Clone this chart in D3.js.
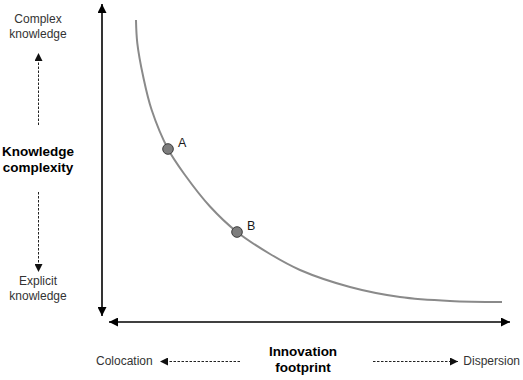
<!DOCTYPE html>
<html>
<head>
<meta charset="utf-8">
<script src="https://cdn.jsdelivr.net/npm/d3@7"></script>
<style>
  html, body { margin: 0; padding: 0; background: #fff; }
  svg { display: block; font-family: "Liberation Sans", Arial, Helvetica, sans-serif; }
</style>
</head>
<body>
<svg id="chart" width="523" height="380"></svg>
<script>
// ---- data ----
const curveX = [8.33, 8.65, 10.12, 12.18, 16.18, 20.34, 26.47, 33.09, 41.18, 48.53, 60.78, 73.04, 85.29, 98.04];
const curveY = [95.25, 87.97, 77.22, 66.77, 54.43, 46.20, 36.23, 28.16, 21.20, 16.14, 10.76, 7.59, 6.33, 6.01];
const pointNames = ["A", "B"];
const pointX = [16.18, 33.09];
const pointY = [54.43, 28.16];
const yAxisTitle = ["Knowledge", "complexity"];
const yTopLabel = ["Complex", "knowledge"];
const yBottomLabel = ["Explicit", "knowledge"];
const xAxisTitle = ["Innovation", "footprint"];
const xLeftLabel = "Colocation";
const xRightLabel = "Dispersion";

// ---- scales ----
const x = d3.scaleLinear().domain([0, 100]).range([102, 510]);
const y = d3.scaleLinear().domain([0, 100]).range([321, 5]);

const svg = d3.select("#chart");
const defs = svg.append("defs");

function marker(id, color, size) {
  defs.append("marker")
    .attr("id", id)
    .attr("viewBox", "0 0 10 10")
    .attr("refX", 10).attr("refY", 5)
    .attr("markerUnits", "userSpaceOnUse")
    .attr("markerWidth", size).attr("markerHeight", size)
    .attr("orient", "auto-start-reverse")
    .append("path")
    .attr("d", "M0,0 L10,5 L0,10 Z")
    .attr("fill", color);
}
marker("arrowMain", "#000", 9);
marker("arrowSmall", "#111", 8);

// ---- main axes (double arrows) ----
svg.append("line")
  .attr("x1", x(0)).attr("x2", x(0))
  .attr("y1", y(0) - 5).attr("y2", y(100) - 1)
  .attr("stroke", "#000").attr("stroke-width", 1.6)
  .attr("marker-start", "url(#arrowMain)")
  .attr("marker-end", "url(#arrowMain)");

svg.append("line")
  .attr("x1", x(0) + 7).attr("x2", x(100))
  .attr("y1", y(0) + 1).attr("y2", y(0) + 1)
  .attr("stroke", "#000").attr("stroke-width", 1.6)
  .attr("marker-start", "url(#arrowMain)")
  .attr("marker-end", "url(#arrowMain)");

// ---- curve ----
const curveData = curveX.map((v, i) => [v, curveY[i]]);
svg.append("path")
  .datum(curveData)
  .attr("fill", "none")
  .attr("stroke", "#8a8a8a")
  .attr("stroke-width", 2)
  .attr("d", d3.line().x(d => x(d[0])).y(d => y(d[1])).curve(d3.curveCatmullRom.alpha(0.5)));

// ---- points ----
const pts = pointNames.map((n, i) => ({ n, x: pointX[i], y: pointY[i] }));
svg.selectAll("circle.pt").data(pts).enter().append("circle")
  .attr("class", "pt")
  .attr("cx", d => x(d.x)).attr("cy", d => y(d.y))
  .attr("r", 5.3)
  .attr("fill", "#7d7d7d")
  .attr("stroke", "#3a3a3a").attr("stroke-width", 1);
svg.selectAll("text.pt").data(pts).enter().append("text")
  .attr("class", "pt")
  .attr("x", d => x(d.x) + 10).attr("y", d => y(d.y) - 2)
  .attr("font-size", 12.5)
  .attr("fill", "#1a1a1a")
  .text(d => d.n);

// ---- left labels ----
const lx = 38;
function lines(arr, cx, y0, dy, size, weight, color) {
  arr.forEach((t, i) => {
    svg.append("text")
      .attr("x", cx).attr("y", y0 + i * dy)
      .attr("text-anchor", "middle")
      .attr("font-size", size)
      .attr("font-weight", weight)
      .attr("fill", color)
      .text(t);
  });
}
lines(yTopLabel, lx, 23, 15, 12, "normal", "#333");
lines(yAxisTitle, lx, 156, 16, 13.5, "bold", "#000");
lines(yBottomLabel, lx, 285, 15, 12, "normal", "#333");

// dashed small arrows (vertical)
svg.append("line")
  .attr("x1", lx + 0.5).attr("x2", lx + 0.5)
  .attr("y1", 125).attr("y2", 53)
  .attr("stroke", "#222").attr("stroke-width", 1)
  .attr("stroke-dasharray", "2.5,1.5")
  .attr("marker-end", "url(#arrowSmall)");
svg.append("line")
  .attr("x1", lx + 0.5).attr("x2", lx + 0.5)
  .attr("y1", 192).attr("y2", 272)
  .attr("stroke", "#222").attr("stroke-width", 1)
  .attr("stroke-dasharray", "2.5,1.5")
  .attr("marker-end", "url(#arrowSmall)");

// ---- bottom labels ----
lines(xAxisTitle, 303, 356, 16, 13.5, "bold", "#000");
svg.append("text")
  .attr("x", 96).attr("y", 365)
  .attr("font-size", 12).attr("fill", "#333")
  .text(xLeftLabel);
svg.append("text")
  .attr("x", 520).attr("y", 365)
  .attr("text-anchor", "end")
  .attr("font-size", 12).attr("fill", "#333")
  .text(xRightLabel);

svg.append("line")
  .attr("x1", 240).attr("x2", 160)
  .attr("y1", 361.5).attr("y2", 361.5)
  .attr("stroke", "#222").attr("stroke-width", 1)
  .attr("stroke-dasharray", "2.5,1.5")
  .attr("marker-end", "url(#arrowSmall)");
svg.append("line")
  .attr("x1", 373).attr("x2", 458)
  .attr("y1", 361.5).attr("y2", 361.5)
  .attr("stroke", "#222").attr("stroke-width", 1)
  .attr("stroke-dasharray", "2.5,1.5")
  .attr("marker-end", "url(#arrowSmall)");
</script>
</body>
</html>
